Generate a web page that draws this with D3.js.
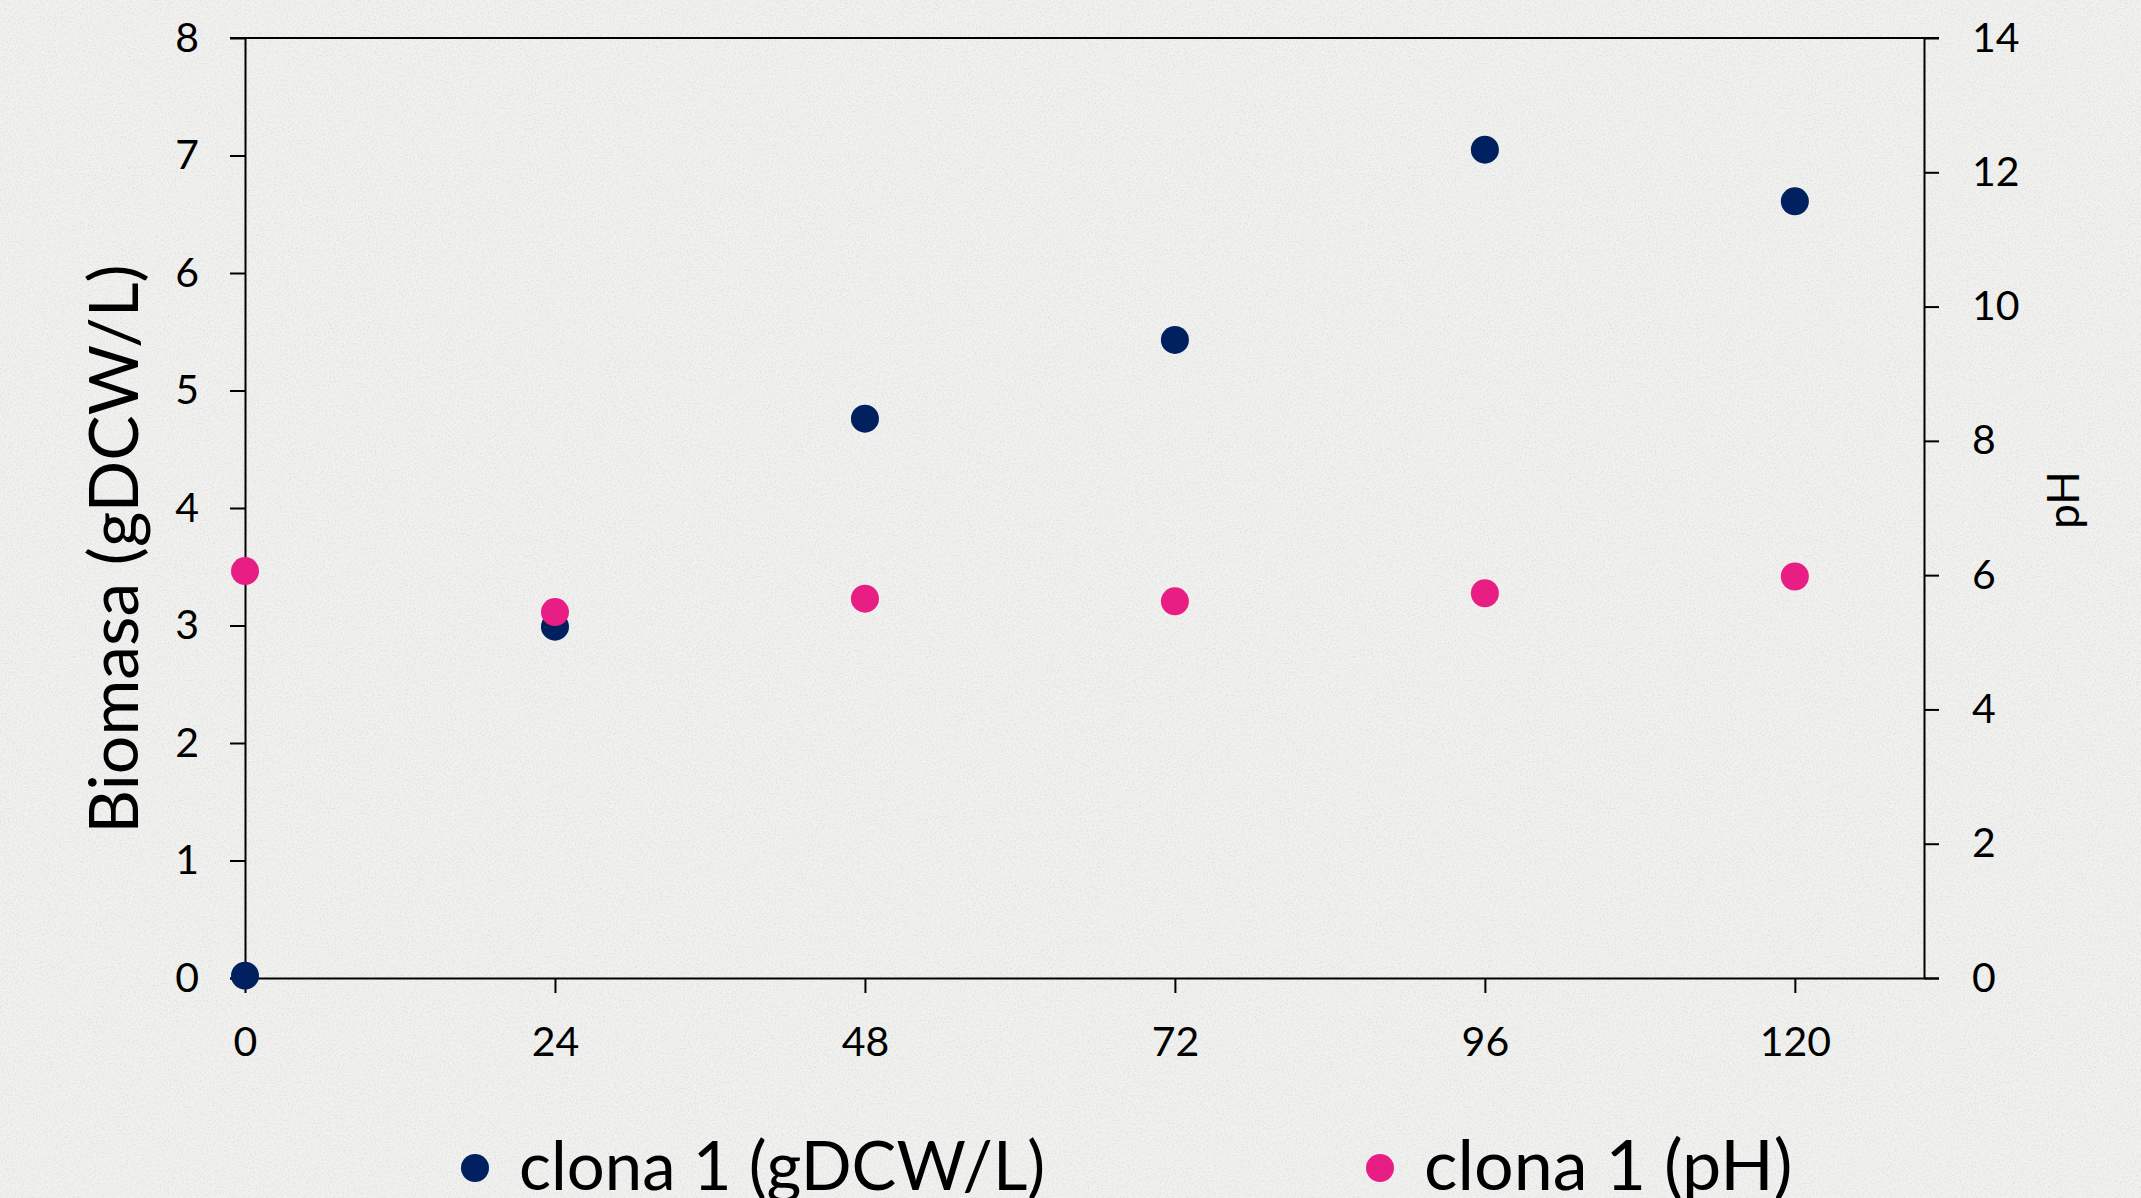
<!DOCTYPE html>
<html>
<head>
<meta charset="utf-8">
<script src="https://cdn.jsdelivr.net/npm/d3@7"></script>
<style>
  html, body { margin: 0; padding: 0; background: #efefed; }
  svg { display: block; }
  text { font-family: Lato, "Open Sans", sans-serif; fill: #000; }
</style>
</head>
<body>
<svg id="chart" width="2141" height="1198"></svg>
<script>
const hours = [0, 24, 48, 72, 96, 120];
const biomass = [0.02, 2.99, 4.76, 5.43, 7.05, 6.61];
const ph = [6.06, 5.45, 5.65, 5.61, 5.73, 5.98];
const xTicks = [0, 24, 48, 72, 96, 120];
const leftTicks = [0, 1, 2, 3, 4, 5, 6, 7, 8];
const rightTicks = [0, 2, 4, 6, 8, 10, 12, 14];
const seriesNames = ["clona 1 (gDCW/L)", "clona 1 (pH)"];
const seriesColors = ["#002060", "#E91E84"];
const leftTitle = "Biomasa (gDCW/L)";
const rightTitle = "pH";

const W = 2141, H = 1198;
const L = 245, R = 1924, T = 38, B = 978;

const svg = d3.select("#chart");

// background with subtle paper texture
const defs = svg.append("defs");
const f = defs.append("filter").attr("id", "noise").attr("x", 0).attr("y", 0).attr("width", "100%").attr("height", "100%");
f.append("feTurbulence").attr("type", "fractalNoise").attr("baseFrequency", 0.6).attr("numOctaves", 2).attr("seed", 3).attr("result", "t");
f.append("feColorMatrix").attr("type", "matrix")
  .attr("values", "0 0 0 0 0.55  0 0 0 0 0.55  0 0 0 0 0.54  0 0 0 -2 1.15");
svg.append("rect").attr("width", W).attr("height", H).attr("fill", "#f1f1ef");
svg.append("rect").attr("width", W).attr("height", H).attr("filter", "url(#noise)").attr("opacity", 0.4);

const x = d3.scaleLinear().domain([0, 130]).range([L, R]);
const yL = d3.scaleLinear().domain([0, 8]).range([B, T]);
const yR = d3.scaleLinear().domain([0, 14]).range([B, T]);

const axisStyle = g => {
  g.selectAll(".domain").attr("stroke", "#000").attr("stroke-width", 2);
  g.selectAll(".tick line").attr("stroke", "#000").attr("stroke-width", 2);
  g.selectAll(".tick text").style("font-size", "41px").attr("fill", "#000");
};

// top border
svg.append("line").attr("x1", L - 15).attr("x2", R + 15).attr("y1", T).attr("y2", T)
  .attr("stroke", "#000").attr("stroke-width", 2);

svg.append("g").attr("transform", `translate(0,${B})`)
  .call(d3.axisBottom(x).tickValues(xTicks).tickSize(15).tickSizeOuter(0).tickPadding(34))
  .call(axisStyle)
  .call(g => g.select(".domain").attr("d", `M${L - 15},0.5H${R + 15}`));

svg.append("g").attr("transform", `translate(${L},0)`)
  .call(d3.axisLeft(yL).tickValues(leftTicks).tickSize(15).tickSizeOuter(0).tickPadding(31))
  .call(axisStyle);

svg.append("g").attr("transform", `translate(${R},0)`)
  .call(d3.axisRight(yR).tickValues(rightTicks).tickSize(15).tickSizeOuter(0).tickPadding(33))
  .call(axisStyle);

// axis titles
svg.append("text")
  .attr("transform", `translate(138,549) rotate(-90)`)
  .attr("text-anchor", "middle")
  .style("font-size", "68px")
  .text(leftTitle);

svg.append("text")
  .attr("transform", `translate(2079,500) rotate(-90)`)
  .attr("text-anchor", "middle")
  .style("font-size", "44px")
  .text(rightTitle);

// points
svg.append("g").selectAll("circle").data(hours.map((h, i) => ({h, v: biomass[i]})))
  .join("circle")
  .attr("cx", d => x(d.h)).attr("cy", d => yL(d.v)).attr("r", 14)
  .attr("fill", seriesColors[0]);

svg.append("g").selectAll("circle").data(hours.map((h, i) => ({h, v: ph[i]})))
  .join("circle")
  .attr("cx", d => x(d.h)).attr("cy", d => yR(d.v)).attr("r", 14)
  .attr("fill", seriesColors[1]);

// legend
const legendX = [475, 1380];
const legendSize = [67, 70];
const lg = svg.append("g");
seriesNames.forEach((name, i) => {
  lg.append("circle").attr("cx", legendX[i]).attr("cy", 1168).attr("r", 14).attr("fill", seriesColors[i]);
  lg.append("text").attr("x", legendX[i] + 44).attr("y", 1190)
    .style("font-size", legendSize[i] + "px").text(name);
});
</script>
</body>
</html>
